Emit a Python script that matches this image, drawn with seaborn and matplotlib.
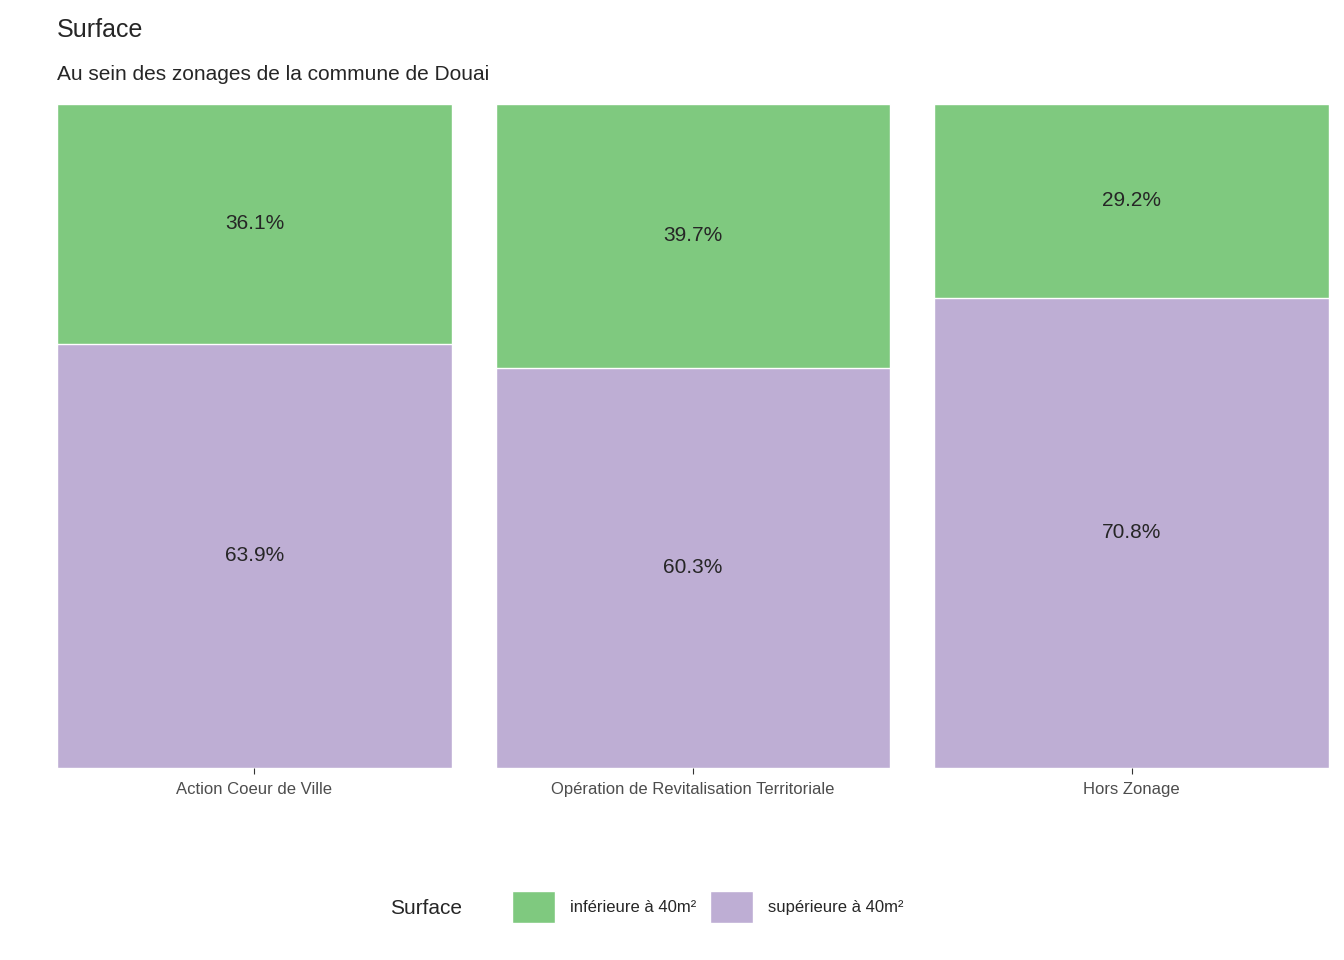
import matplotlib
matplotlib.use("Agg")
import matplotlib.pyplot as plt
import seaborn as sns
import pandas as pd
from matplotlib.patches import Patch

categories = ["Action Coeur de Ville", "Opération de Revitalisation Territoriale", "Hors Zonage"]
inf_40 = [36.1, 39.7, 29.2]
sup_40 = [63.9, 60.3, 70.8]
legend_labels = ["inférieure à 40m²", "supérieure à 40m²"]
GREEN, PURPLE = "#7FC97F", "#BEAED4"

sns.set_style("white")
plt.rcParams['font.family'] = ['Liberation Sans', 'DejaVu Sans']

df = pd.DataFrame({"cat": categories, "inf": inf_40, "sup": sup_40})
df["total"] = (df["inf"] + df["sup"]) / 100
df["sup_frac"] = df["sup"] / 100

fig = plt.figure(figsize=(13.44, 9.6), dpi=100)
ax = fig.add_axes([57/1344, 192/960, 1272/1344, 664/960])
sns.barplot(data=df, x="cat", y="total", color=GREEN, saturation=1, width=0.9, ax=ax)
sns.barplot(data=df, x="cat", y="sup_frac", color=PURPLE, saturation=1, width=0.9, ax=ax)

for i, (a, b) in enumerate(zip(inf_40, sup_40)):
    ax.text(i, b / 200, f"{b:.1f}%", ha="center", va="center", fontsize=15)
    ax.text(i, b / 100 + a / 200, f"{a:.1f}%", ha="center", va="center", fontsize=15)

ax.set_xlim(-0.45, 2.45)
ax.set_ylim(0, 1)
ax.set_yticks([])
ax.set_xlabel("")
ax.set_ylabel("")
for s in ax.spines.values():
    s.set_visible(False)
ax.tick_params(axis="x", length=4, color="#333333", labelsize=12, labelcolor="#4D4D4D", pad=6)
ax.tick_params(axis="x", bottom=True)

fig.text(57/1344, 1 - 30/960, "Surface", fontsize=18, va="center")
fig.text(57/1344, 1 - 75/960, "Au sein des zonages de la commune de Douai", fontsize=15, va="center")

fig.text(390/1344, 1 - 909/960, "Surface", fontsize=15, va="center")
handles = [Patch(facecolor=GREEN, edgecolor="white"), Patch(facecolor=PURPLE, edgecolor="white")]
fig.legend(handles, legend_labels, loc="center left", bbox_to_anchor=(497/1344, 1 - 907/960),
           ncol=2, frameon=False, fontsize=12, handlelength=2.6, handleheight=2.6,
           handletextpad=0.9, columnspacing=0.8)

fig.savefig("out.png", dpi=100)
